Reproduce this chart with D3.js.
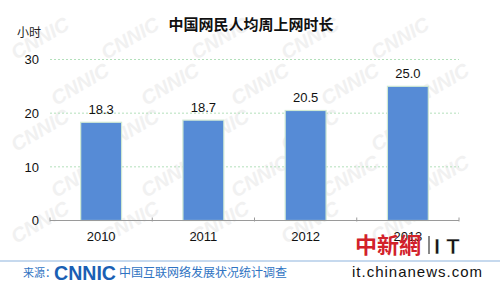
<!DOCTYPE html>
<html>
<head>
<meta charset="utf-8">
<script src="https://cdn.jsdelivr.net/npm/d3@7"></script>
<style>
  body { margin: 0; background: #fff; }
  text { font-family: "Liberation Sans", Arial, sans-serif; }
  .cjk { font-family: "Noto Sans CJK SC", sans-serif; }
</style>
</head>
<body>
<div id="graphic"></div>
<script>
const width = 500;
const height = 288;

// data
const years = ['2010', '2011', '2012', '2013'];
const hours = [18.3, 18.7, 20.5, 25.0];
const yTicks = [0, 10, 20, 30];

const svg = d3.select('#graphic')
    .append('svg')
    .attr('width', width)
    .attr('height', height);

svg.append('rect')
    .attr('width', width)
    .attr('height', height)
    .attr('fill', '#fff');

// faint CNNIC watermark, kept inside the frame
const wm = svg.append('g').attr('fill', '#f1f1f1');
for (let row = 0; row < 5; row++) {
    for (let col = 0; col < 5; col++) {
        const x = 16 + col * 90 + (row % 2) * 40;
        const y = 60 + row * 46;
        if (x > 420) continue;
        wm.append('text')
            .attr('transform', `translate(${x}, ${y}) rotate(-30)`)
            .attr('font-size', 20)
            .attr('font-weight', 'bold')
            .attr('font-style', 'italic')
            .text('CNNIC');
    }
}

const scaleX = d3.scaleBand()
    .domain(years)
    .range([50, 459])
    .paddingInner(0.6)
    .paddingOuter(0.3);

const scaleY = d3.scaleLinear()
    .domain([0, 30])
    .range([220.5, 59.5]);

// gridlines
svg.append('g')
    .selectAll('line')
    .data(yTicks.filter(d => d > 0))
    .enter()
    .append('line')
    .attr('x1', 50)
    .attr('x2', 459)
    .attr('y1', d => scaleY(d))
    .attr('y2', d => scaleY(d))
    .attr('stroke', '#b3e0bb')
    .attr('stroke-dasharray', '2,2');

// y axis labels
const axisY = d3.axisLeft(scaleY).tickValues(yTicks).tickSize(0).tickPadding(0);
svg.append('g')
    .attr('transform', 'translate(39,0)')
    .call(axisY)
    .call(g => g.select('.domain').remove())
    .call(g => g.selectAll('text').attr('font-size', 13).attr('fill', '#111')
        .attr('font-family', '"Liberation Sans", Arial, sans-serif'));

// bars
svg.append('g')
    .selectAll('rect')
    .data(hours)
    .enter()
    .append('rect')
    .attr('x', (d, i) => scaleX(years[i]))
    .attr('y', d => scaleY(d))
    .attr('width', scaleX.bandwidth())
    .attr('height', d => scaleY(0) - scaleY(d))
    .attr('fill', '#568bd6')
    .attr('stroke', '#cfe8d4')
    .attr('stroke-width', 1.2);

// value labels
svg.append('g')
    .selectAll('text')
    .data(hours)
    .enter()
    .append('text')
    .attr('x', (d, i) => scaleX(years[i]) + scaleX.bandwidth() / 2)
    .attr('y', d => scaleY(d) - 8)
    .attr('text-anchor', 'middle')
    .attr('font-size', 13)
    .attr('fill', '#111')
    .text(d => d.toFixed(1));

// x axis line + boundary ticks
const step = scaleX.step();
const bounds = years.map(y => scaleX(y) - (step - scaleX.bandwidth()) / 2).concat([459]);
svg.append('line')
    .attr('x1', 50).attr('x2', 459)
    .attr('y1', scaleY(0)).attr('y2', scaleY(0))
    .attr('stroke', '#9a9a9a');
svg.append('g')
    .selectAll('line')
    .data(bounds)
    .enter()
    .append('line')
    .attr('x1', d => d).attr('x2', d => d)
    .attr('y1', scaleY(0) - 3).attr('y2', scaleY(0) + 1)
    .attr('stroke', '#9a9a9a');

const axisX = d3.axisBottom(scaleX).tickSize(0).tickPadding(0);
svg.append('g')
    .attr('transform', `translate(0, ${scaleY(0) + 11})`)
    .call(axisX)
    .call(g => g.select('.domain').remove())
    .call(g => g.selectAll('text').attr('font-size', 13).attr('fill', '#111')
        .attr('font-family', '"Liberation Sans", Arial, sans-serif'));

// title + unit
svg.append('text')
    .attr('class', 'cjk')
    .attr('x', 251)
    .attr('y', 30)
    .attr('text-anchor', 'middle')
    .attr('font-size', 15)
    .attr('font-weight', 'bold')
    .attr('fill', '#111')
    .text('中国网民人均周上网时长');

svg.append('text')
    .attr('class', 'cjk')
    .attr('x', 17)
    .attr('y', 37)
    .attr('font-size', 12)
    .attr('fill', '#222')
    .text('小时');

// footer
svg.append('line')
    .attr('x1', 0).attr('x2', 500)
    .attr('y1', 261).attr('y2', 261)
    .attr('stroke', '#8db3dd');

svg.append('text')
    .attr('class', 'cjk')
    .attr('x', 23)
    .attr('y', 277)
    .attr('font-size', 11)
    .attr('fill', '#2f73c2')
    .text('来源：');

svg.append('text')
    .attr('x', 54)
    .attr('y', 280)
    .attr('font-size', 21)
    .attr('font-weight', 'bold')
    .attr('fill', '#1a5fb4')
    .attr('textLength', 62)
    .attr('lengthAdjust', 'spacingAndGlyphs')
    .text('CNNIC');

svg.append('text')
    .attr('class', 'cjk')
    .attr('x', 119)
    .attr('y', 277)
    .attr('font-size', 12)
    .attr('fill', '#2f73c2')
    .text('中国互联网络发展状况统计调查');

// chinanews mark
svg.append('text')
    .attr('class', 'cjk')
    .attr('x', 355)
    .attr('y', 253)
    .attr('font-size', 22)
    .attr('font-weight', 'bold')
    .attr('fill', '#d2212a')
    .text('中新網');

svg.append('rect')
    .attr('x', 428).attr('y', 236).attr('width', 2).attr('height', 18)
    .attr('fill', '#888');

svg.append('text')
    .attr('x', 434)
    .attr('y', 254)
    .attr('font-size', 22)
    .attr('font-weight', 'bold')
    .attr('fill', '#111')
    .attr('stroke', '#fff')
    .attr('stroke-width', 0.5)
    .text('I T');

svg.append('text')
    .attr('x', 352)
    .attr('y', 277)
    .attr('font-size', 15)
    .attr('fill', '#111')
    .attr('stroke', '#fff')
    .attr('stroke-width', 3)
    .attr('paint-order', 'stroke')
    .attr('textLength', 130)
    .text('it.chinanews.com');
</script>
</body>
</html>
